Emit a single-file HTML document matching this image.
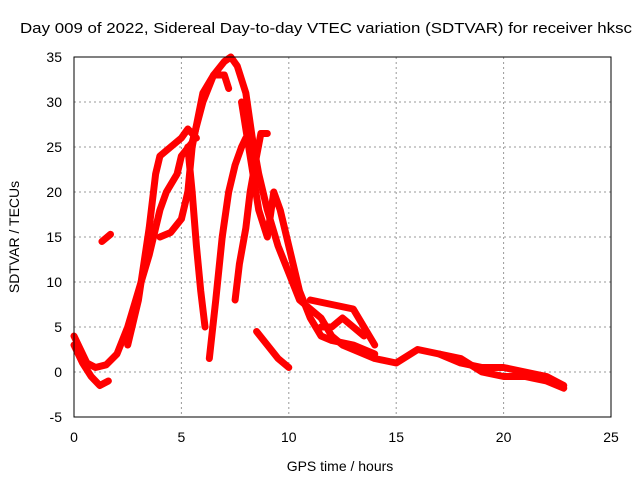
<!DOCTYPE html>
<html><head><meta charset="utf-8"><style>
body{margin:0;background:#fff}
svg{display:block;font-family:"Liberation Sans",sans-serif;font-size:14px}
</style></head><body>
<svg id="chart" width="640" height="480">
<text x="20" y="33" textLength="612" lengthAdjust="spacingAndGlyphs" style="font-size:15px">Day 009 of 2022, Sidereal Day-to-day VTEC variation (SDTVAR) for receiver hksc</text>
<text x="340" y="471" text-anchor="middle">GPS time / hours</text>
<text transform="translate(19,237) rotate(-90)" text-anchor="middle">SDTVAR / TECUs</text>
<g id="grid"></g><g id="ticks"></g><g id="series"></g>
<rect x="74" y="57" width="537" height="360" fill="none" stroke="#000"/>
</svg>
<script>
const xTicks=[0,5,10,15,20,25];
const yTicks=[-5,0,5,10,15,20,25,30,35];
const trace1=[[0,4],[0.3,2.5],[0.6,1],[1,0.5],[1.5,0.8],[2,2],[2.5,5],[3,9],[3.5,13],[4,18],[4.3,20],[4.8,22],[5,24],[5.5,25.5],[6,30],[6.5,33],[7,34.5],[7.3,35],[7.6,34],[8,31],[8.3,26],[8.6,22],[9,18],[9.5,14],[10,11],[10.5,8],[11,7],[11.5,6],[12,4],[12.5,3],[13,2.5],[14,1.5],[15,1],[16,2.5],[17,2],[18,1],[19,0.5],[20,0.5],[21,0],[22,-0.5],[22.8,-1.5]];
const trace2=[[0,3],[0.4,1],[0.8,-0.5],[1.2,-1.5],[1.6,-1]];
const trace3=[[2.5,3],[3,8],[3.5,16],[3.8,22],[4,24],[4.5,25],[5,26],[5.3,27],[5.7,26]];
const trace4=[[4,15],[4.5,15.5],[5,17],[5.3,20],[5.5,25],[6,31],[6.5,33],[7,33],[7.2,31.5]];
const trace5=[[5.3,25],[5.5,20],[5.7,14],[5.9,9],[6.1,5]];
const trace6=[[6.3,1.5],[6.6,8],[6.9,15],[7.2,20],[7.5,23],[7.8,25],[8,26]];
const trace7=[[7.5,8],[7.7,12],[8,16],[8.2,20],[8.5,24],[8.7,26.5],[9,26.5]];
const trace8=[[7.8,30],[8.2,24],[8.6,18],[9,15],[9.3,20],[9.6,18],[10,14],[10.5,9],[11,6],[11.5,4],[12,3.5],[13,3],[14,2]];
const trace9=[[8.5,4.5],[9,3],[9.5,1.5],[10,0.5]];
const trace10=[[1.3,14.5],[1.7,15.3]];
const trace11=[[11,8],[12,7.5],[13,7],[13.5,5],[14,3]];
const trace12=[[11.5,5],[12,5],[12.5,6],[13,5],[13.5,4]];
const trace13=[[17,2],[18,1.5],[19,0],[20,-0.5],[21,-0.5],[22,-1],[22.8,-1.8]];
const traces=[trace1,trace2,trace3,trace4,trace5,trace6,trace7,trace8,trace9,trace10,trace11,trace12,trace13];
const X=v=>74+v*(537/25), Y=v=>417-(v+5)*9;
const NS="http://www.w3.org/2000/svg";
const mk=(t,a,p)=>{const e=document.createElementNS(NS,t);for(const k in a)e.setAttribute(k,a[k]);p.appendChild(e);return e;};
const g=document.getElementById('grid'),tk=document.getElementById('ticks'),s=document.getElementById('series');
xTicks.forEach(v=>{
 if(v>0&&v<25){const l=mk('line',{x1:X(v),x2:X(v),y1:57,y2:417,stroke:'#999','stroke-dasharray':'2,3'},g);
 
 }
 const t=mk('text',{x:X(v),y:442,'text-anchor':'middle'},tk);t.textContent=v;
 
 
});
yTicks.forEach(v=>{
 if(v>-5&&v<35){const l=mk('line',{x1:74,x2:611,y1:Y(v),y2:Y(v),stroke:'#999','stroke-dasharray':'2,3'},g);
 
 }
 const t=mk('text',{x:62,y:Y(v)+5,'text-anchor':'end'},tk);t.textContent=v;
 
 
});
traces.forEach(tr=>{
 const p=mk('polyline',{points:tr.map(d=>X(d[0])+','+Y(d[1])).join(' '),fill:'none',stroke:'#f00','stroke-width':7,'stroke-linejoin':'round','stroke-linecap':'round'},s);
 
 
});
</script>
</body></html>
